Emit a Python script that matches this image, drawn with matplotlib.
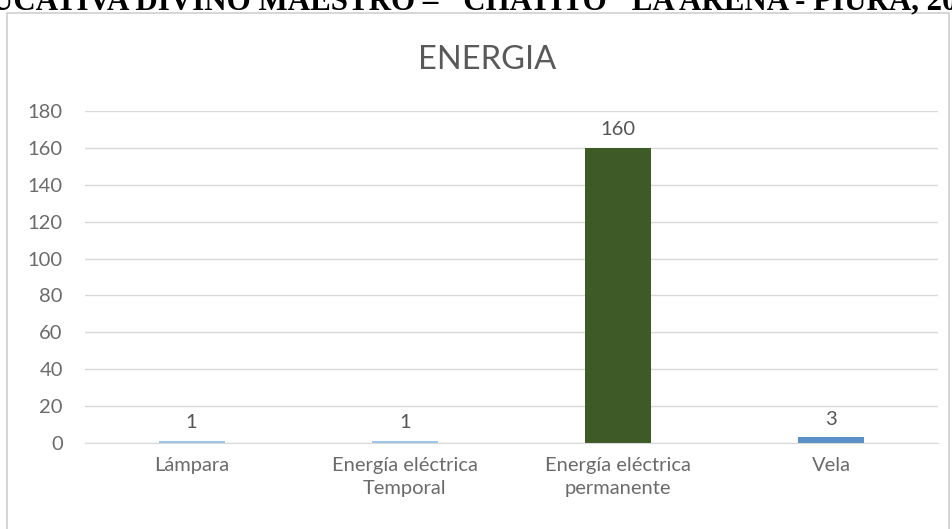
import matplotlib.pyplot as plt
from matplotlib.patches import Rectangle

# data
categorias = ["Lámpara", "Energía eléctrica\nTemporal", "Energía eléctrica\npermanente", "Vela"]
valores = [1, 1, 160, 3]
colores = ["#9dc3e6", "#9dc3e6", "#3d5a27", "#5b8fc7"]
y_ticks = [0, 20, 40, 60, 80, 100, 120, 140, 160, 180]

W, H = 953, 529
fig = plt.figure(figsize=(W / 100, H / 100), dpi=100)

# header text from the document page (cut at the top, as in the scan)
fig.text(-9 / W, 1 - 9 / H, 'UCATIVA DIVINO MAESTRO – "CHATITO" LA ARENA - PIURA, 20',
         family="Liberation Serif", weight="bold", fontsize=22.3, ha="left", va="baseline")

# chart frame
fig.patches.append(Rectangle((7 / W, -0.01), (949 - 7) / W, (529 - 13) / H + 0.01,
                             transform=fig.transFigure, fill=False,
                             edgecolor="#d0d0d0", linewidth=1.2))

ax = fig.add_axes([85 / W, (H - 443) / H, (938 - 85) / W, (443 - 111) / H])
x = range(len(categorias))
bars = ax.bar(x, valores, width=0.31, color=colores)

ax.set_ylim(0, 180)
ax.set_xlim(-0.5, len(categorias) - 0.5)
ax.set_yticks(y_ticks)
ax.set_xticks(list(x))
ax.set_xticklabels(categorias, family="Lato", fontsize=14.5, color="#6b6b6b", linespacing=1.45)
for lbl in ax.get_yticklabels():
    lbl.set_family("Lato")
    lbl.set_fontsize(14.5)
    lbl.set_color("#6b6b6b")

ax.grid(axis="y", color="#d9d9d9", linewidth=1)
ax.set_axisbelow(True)
for s in ["top", "right", "left"]:
    ax.spines[s].set_visible(False)
ax.spines["bottom"].set_color("#d9d9d9")
ax.tick_params(axis="both", length=0)
ax.tick_params(axis="y", pad=16)
ax.tick_params(axis="x", pad=10)

for b, v in zip(bars, valores):
    ax.annotate(str(v), (b.get_x() + b.get_width() / 2, v), xytext=(0, 7),
                textcoords="offset points", ha="center", va="bottom",
                family="Lato", fontsize=14.5, color="#555555")

fig.text(487 / W, 1 - 60 / H, "ENERGIA", family="Lato", fontsize=23.5,
         color="#595959", ha="center", va="center")

fig.savefig("out.png", dpi=100, facecolor="white")
